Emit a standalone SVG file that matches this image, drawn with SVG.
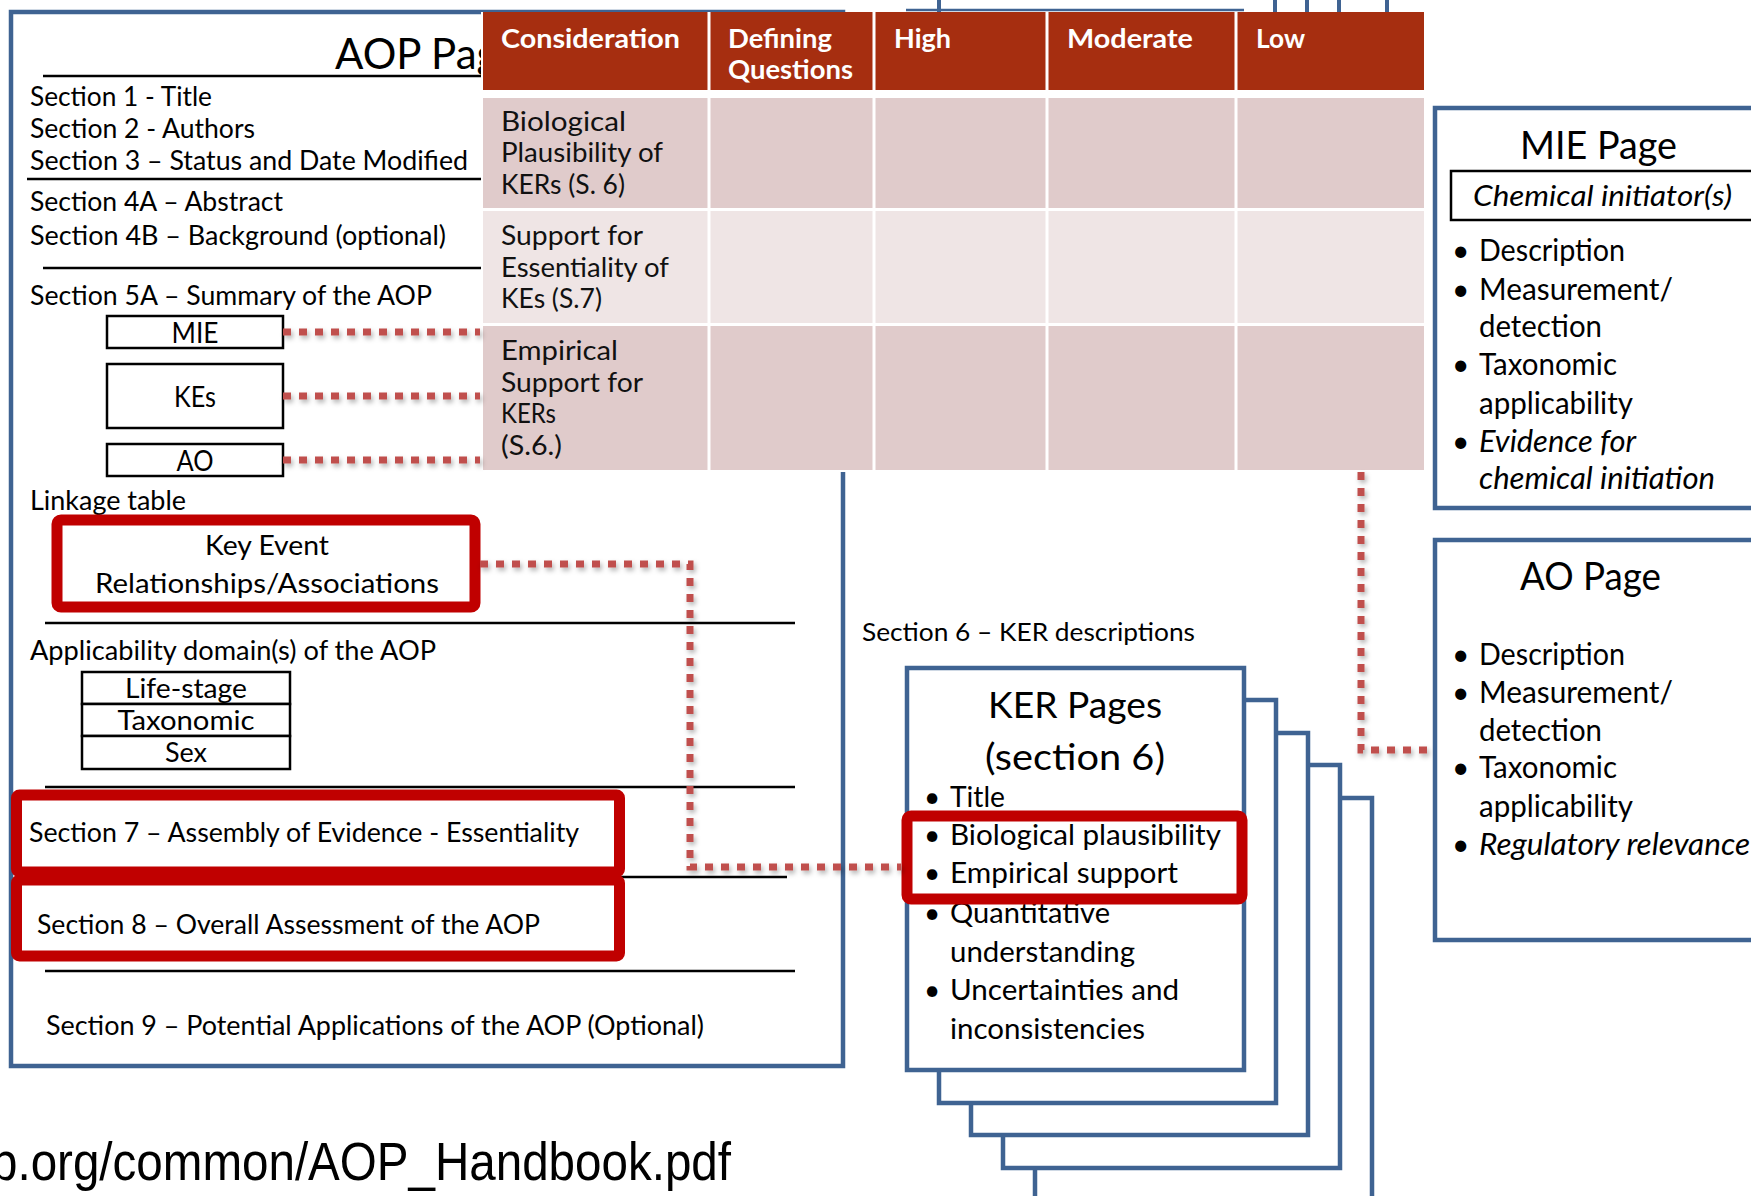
<svg xmlns="http://www.w3.org/2000/svg" width="1751" height="1196" viewBox="0 0 1751 1196">
<defs>
<style>
text{font-family:Lato,"Open Sans","DejaVu Sans",sans-serif;fill:#000}
text.url{font-family:"Liberation Sans",Arial,sans-serif;font-size:54px}
.sec{font-size:26px}
.bluebox{fill:#fff;stroke:#3F6392;stroke-width:4.5}
.blk{fill:#fff;stroke:#000;stroke-width:2.5}
.sep{stroke:#000;stroke-width:2.5;fill:none}
.red{fill:#fff;stroke:#C00000;stroke-width:11}
.dot{fill:none;stroke:#C0504D;stroke-width:7;stroke-dasharray:8 8}
.hdr{fill:#A62E10}
.rowa{fill:#E0CBCB}
.rowb{fill:#EFE5E5}
.th{font-size:26px;font-weight:bold;fill:#fff}
.td{font-size:26px;fill:#111}
.mie{font-size:30px}
.ker{font-size:28px}
</style>
<filter id="sh" filterUnits="userSpaceOnUse" x="0" y="0" width="1751" height="1196">
<feDropShadow dx="2" dy="3" stdDeviation="2.5" flood-color="#000" flood-opacity="0.3"/>
</filter>
</defs>
<rect width="1751" height="1196" fill="#fff"/>

<g id="aop-page">
<rect class="bluebox" x="11" y="12" width="832" height="1054" stroke-width="4"/>
<text x="335" y="69" font-size="42">AOP Page</text>
<line class="sep" x1="43" y1="76" x2="482" y2="76"/>
<text class="sec" x="30" y="106" textLength="182" lengthAdjust="spacingAndGlyphs">Section 1 - Title</text>
<text class="sec" x="30" y="138" textLength="225" lengthAdjust="spacingAndGlyphs">Section 2 - Authors</text>
<text class="sec" x="30" y="170" textLength="438" lengthAdjust="spacingAndGlyphs">Section 3 – Status and Date Modified</text>
<line class="sep" x1="27" y1="179" x2="482" y2="179"/>
<text class="sec" x="30" y="211" textLength="253" lengthAdjust="spacingAndGlyphs">Section 4A – Abstract</text>
<text class="sec" x="30" y="245" textLength="416" lengthAdjust="spacingAndGlyphs">Section 4B – Background (optional)</text>
<line class="sep" x1="43" y1="268" x2="482" y2="268"/>
<text class="sec" x="30" y="305" textLength="402" lengthAdjust="spacingAndGlyphs">Section 5A – Summary of the AOP</text>
<text class="sec" x="30" y="510" textLength="156" lengthAdjust="spacingAndGlyphs">Linkage table</text>
<line class="sep" x1="45" y1="623" x2="795" y2="623"/>
<text class="sec" x="30" y="660" textLength="406" lengthAdjust="spacingAndGlyphs">Applicability domain(s) of the AOP</text>
<line class="sep" x1="45" y1="787" x2="795" y2="787"/>
<line class="sep" x1="45" y1="877" x2="787" y2="877"/>
<line class="sep" x1="45" y1="971" x2="795" y2="971"/>
<text class="sec" x="46" y="1035" textLength="658" lengthAdjust="spacingAndGlyphs">Section 9 – Potential Applications of the AOP (Optional)</text>
</g>

<g id="mie-box">
<rect class="blk" x="107" y="316" width="176" height="32"/>
<text x="195" y="343" font-size="29" text-anchor="middle" textLength="47" lengthAdjust="spacingAndGlyphs">MIE</text>
</g>
<g id="kes-box">
<rect class="blk" x="107" y="364" width="176" height="64"/>
<text x="195" y="407" font-size="29" text-anchor="middle" textLength="42" lengthAdjust="spacingAndGlyphs">KEs</text>
</g>
<g id="ao-box">
<rect class="blk" x="107" y="444" width="176" height="32"/>
<text x="195" y="471" font-size="29" text-anchor="middle" textLength="37" lengthAdjust="spacingAndGlyphs">AO</text>
</g>

<g id="ker-linkage">
<rect class="red" x="57" y="520" width="418" height="87" rx="4"/>
<text class="sec" x="267" y="555" text-anchor="middle" textLength="124" lengthAdjust="spacingAndGlyphs">Key Event</text>
<text class="sec" x="267" y="593" text-anchor="middle" textLength="344" lengthAdjust="spacingAndGlyphs">Relationships/Associations</text>
</g>

<g id="applicability">
<rect class="blk" x="82" y="672" width="208" height="32"/>
<rect class="blk" x="82" y="704" width="208" height="32"/>
<rect class="blk" x="82" y="736" width="208" height="33"/>
<text x="186" y="698" font-size="27" text-anchor="middle" textLength="122" lengthAdjust="spacingAndGlyphs">Life-stage</text>
<text x="186" y="730" font-size="27" text-anchor="middle" textLength="137" lengthAdjust="spacingAndGlyphs">Taxonomic</text>
<text x="186" y="762" font-size="27" text-anchor="middle" textLength="42" lengthAdjust="spacingAndGlyphs">Sex</text>
</g>

<g id="section7">
<rect class="red" x="16.5" y="795" width="603" height="77" rx="3"/>
<text class="sec" x="29" y="842" textLength="550" lengthAdjust="spacingAndGlyphs">Section 7 – Assembly of Evidence - Essentiality</text>
</g>
<g id="section8">
<rect class="red" x="16.5" y="880" width="603" height="76" rx="3"/>
<text class="sec" x="37" y="934" textLength="503" lengthAdjust="spacingAndGlyphs">Section 8 – Overall Assessment of the AOP</text>
</g>

<g id="top-partial" stroke="#3F6392" fill="none">
<line x1="906" y1="10" x2="1244" y2="10" stroke-width="2.5"/>
<line x1="939" y1="0" x2="939" y2="12" stroke-width="4"/>
<line x1="1275" y1="0" x2="1275" y2="12" stroke-width="4"/>
<line x1="1307" y1="0" x2="1307" y2="12" stroke-width="4"/>
<line x1="1339" y1="0" x2="1339" y2="12" stroke-width="4"/>
<line x1="1387" y1="0" x2="1387" y2="12" stroke-width="4"/>
</g>

<g id="table">
<rect fill="#fff" x="481" y="12" width="945" height="460"/>
<rect class="hdr" x="483" y="12" width="941" height="78"/>
<rect class="rowa" x="483" y="98" width="941" height="110"/>
<rect class="rowb" x="483" y="211" width="941" height="112"/>
<rect class="rowa" x="483" y="326" width="941" height="144"/>
<g stroke="#fff" stroke-width="3">
<line x1="709" y1="12" x2="709" y2="470"/>
<line x1="874" y1="12" x2="874" y2="470"/>
<line x1="1047" y1="12" x2="1047" y2="470"/>
<line x1="1236" y1="12" x2="1236" y2="470"/>
</g>
<text class="th" x="501" y="48" textLength="179" lengthAdjust="spacingAndGlyphs">Consideration</text>
<text class="th" x="728" y="48" textLength="104" lengthAdjust="spacingAndGlyphs">Defining</text>
<text class="th" x="728" y="79" textLength="125" lengthAdjust="spacingAndGlyphs">Questions</text>
<text class="th" x="894" y="48" textLength="57" lengthAdjust="spacingAndGlyphs">High</text>
<text class="th" x="1067" y="48" textLength="126" lengthAdjust="spacingAndGlyphs">Moderate</text>
<text class="th" x="1256" y="48" textLength="49" lengthAdjust="spacingAndGlyphs">Low</text>
<text class="td" x="501" y="131" textLength="125" lengthAdjust="spacingAndGlyphs">Biological</text>
<text class="td" x="501" y="162" textLength="162" lengthAdjust="spacingAndGlyphs">Plausibility of</text>
<text class="td" x="501" y="194" textLength="124" lengthAdjust="spacingAndGlyphs">KERs (S. 6)</text>
<text class="td" x="501" y="245" textLength="142" lengthAdjust="spacingAndGlyphs">Support for</text>
<text class="td" x="501" y="277" textLength="168" lengthAdjust="spacingAndGlyphs">Essentiality of</text>
<text class="td" x="501" y="308" textLength="101" lengthAdjust="spacingAndGlyphs">KEs (S.7)</text>
<text class="td" x="501" y="360" textLength="117" lengthAdjust="spacingAndGlyphs">Empirical</text>
<text class="td" x="501" y="392" textLength="142" lengthAdjust="spacingAndGlyphs">Support for</text>
<text class="td" x="501" y="423" textLength="55" lengthAdjust="spacingAndGlyphs">KERs</text>
<text class="td" x="501" y="455" textLength="61" lengthAdjust="spacingAndGlyphs">(S.6.)</text>
</g>

<text x="862" y="641" font-size="25" textLength="333" lengthAdjust="spacingAndGlyphs">Section 6 – KER descriptions</text>

<g id="ker-pages">
<rect class="bluebox" x="1035" y="798" width="337" height="450"/>
<rect class="bluebox" x="1003" y="765" width="337" height="403"/>
<rect class="bluebox" x="971" y="733" width="337" height="402"/>
<rect class="bluebox" x="939" y="700" width="337" height="403"/>
<rect class="bluebox" x="907" y="668" width="337" height="402"/>
<text x="1075" y="718" font-size="36" text-anchor="middle" textLength="174" lengthAdjust="spacingAndGlyphs">KER Pages</text>
<text x="1075" y="770" font-size="36" text-anchor="middle" textLength="180" lengthAdjust="spacingAndGlyphs">(section 6)</text>
<text class="ker" x="924" y="807">•</text>
<text class="ker" x="950" y="807" textLength="55" lengthAdjust="spacingAndGlyphs">Title</text>
<text class="ker" x="924" y="923">•</text>
<text class="ker" x="950" y="923" textLength="160" lengthAdjust="spacingAndGlyphs">Quantitative</text>
<text class="ker" x="950" y="962" textLength="185" lengthAdjust="spacingAndGlyphs">understanding</text>
<text class="ker" x="924" y="1000">•</text>
<text class="ker" x="950" y="1000" textLength="229" lengthAdjust="spacingAndGlyphs">Uncertainties and</text>
<text class="ker" x="950" y="1039" textLength="195" lengthAdjust="spacingAndGlyphs">inconsistencies</text>
</g>

<g id="ker-highlight">
<rect class="red" x="907" y="816" width="335" height="83" rx="4" stroke-width="12"/>
<text class="ker" x="924" y="845">•</text>
<text class="ker" x="950" y="845" textLength="271" lengthAdjust="spacingAndGlyphs">Biological plausibility</text>
<text class="ker" x="924" y="883">•</text>
<text class="ker" x="950" y="883" textLength="228" lengthAdjust="spacingAndGlyphs">Empirical support</text>
</g>

<g id="mie-page">
<rect class="bluebox" x="1435" y="108" width="400" height="400"/>
<text x="1520" y="159" font-size="39" textLength="157" lengthAdjust="spacingAndGlyphs">MIE Page</text>
<rect class="blk" x="1451" y="171" width="360" height="49"/>
<text x="1473" y="206" font-size="28" font-style="italic" textLength="259" lengthAdjust="spacingAndGlyphs">Chemical initiator(s)</text>
<text class="mie" x="1452" y="261">•</text>
<text class="mie" x="1479" y="261" textLength="146" lengthAdjust="spacingAndGlyphs">Description</text>
<text class="mie" x="1452" y="300">•</text>
<text class="mie" x="1479" y="300" textLength="194" lengthAdjust="spacingAndGlyphs">Measurement/</text>
<text class="mie" x="1479" y="337" textLength="123" lengthAdjust="spacingAndGlyphs">detection</text>
<text class="mie" x="1452" y="375">•</text>
<text class="mie" x="1479" y="375" textLength="138" lengthAdjust="spacingAndGlyphs">Taxonomic</text>
<text class="mie" x="1479" y="414" textLength="154" lengthAdjust="spacingAndGlyphs">applicability</text>
<text class="mie" x="1452" y="452">•</text>
<text class="mie" x="1479" y="452" font-style="italic" textLength="157" lengthAdjust="spacingAndGlyphs">Evidence for</text>
<text class="mie" x="1479" y="489" font-style="italic" textLength="236" lengthAdjust="spacingAndGlyphs">chemical initiation</text>
</g>

<g id="ao-page">
<rect class="bluebox" x="1435" y="540" width="400" height="400"/>
<text x="1520" y="590" font-size="39" textLength="141" lengthAdjust="spacingAndGlyphs">AO Page</text>
<text class="mie" x="1452" y="665">•</text>
<text class="mie" x="1479" y="665" textLength="146" lengthAdjust="spacingAndGlyphs">Description</text>
<text class="mie" x="1452" y="703">•</text>
<text class="mie" x="1479" y="703" textLength="194" lengthAdjust="spacingAndGlyphs">Measurement/</text>
<text class="mie" x="1479" y="741" textLength="123" lengthAdjust="spacingAndGlyphs">detection</text>
<text class="mie" x="1452" y="778">•</text>
<text class="mie" x="1479" y="778" textLength="138" lengthAdjust="spacingAndGlyphs">Taxonomic</text>
<text class="mie" x="1479" y="817" textLength="154" lengthAdjust="spacingAndGlyphs">applicability</text>
<text class="mie" x="1452" y="855">•</text>
<text class="mie" x="1479" y="855" font-style="italic" textLength="271" lengthAdjust="spacingAndGlyphs">Regulatory relevance</text>
</g>

<g id="connectors" filter="url(#sh)">
<path class="dot" d="M283 332H480"/>
<path class="dot" d="M283 396H480"/>
<path class="dot" d="M283 460H480"/>
<path class="dot" d="M480 564H690V867H901"/>
<path class="dot" d="M1361 472V750H1433"/>
</g>

<text class="url" x="-9" y="1180" textLength="740" lengthAdjust="spacingAndGlyphs">b.org/common/AOP_Handbook.pdf</text>
</svg>
